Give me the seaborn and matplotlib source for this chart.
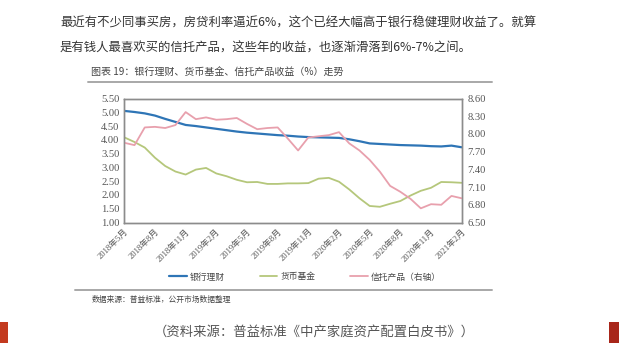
import pandas as pd
import matplotlib.pyplot as plt
import seaborn as sns
from matplotlib.lines import Line2D
from matplotlib.patches import Rectangle

# monthly data, 2018-05 .. 2021-02
months = list(range(34))
bank = [5.05, 5.01, 4.96, 4.88, 4.76, 4.65, 4.54, 4.50, 4.45, 4.40,
        4.35, 4.30, 4.26, 4.23, 4.20, 4.17, 4.15, 4.12, 4.10, 4.09,
        4.08, 4.07, 4.02, 3.95, 3.87, 3.85, 3.83, 3.81, 3.80, 3.79,
        3.77, 3.76, 3.79, 3.73]
money = [4.09, 3.92, 3.72, 3.35, 3.05, 2.85, 2.74, 2.92, 2.98, 2.78,
         2.68, 2.55, 2.46, 2.47, 2.40, 2.40, 2.42, 2.42, 2.43, 2.59,
         2.62, 2.48, 2.20, 1.88, 1.60, 1.57, 1.68, 1.78, 1.98, 2.15,
         2.26, 2.47, 2.46, 2.44]
trust = [7.85, 7.81, 8.11, 8.12, 8.10, 8.15, 8.37, 8.25, 8.28, 8.24,
         8.25, 8.27, 8.17, 8.08, 8.10, 8.11, 7.92, 7.72, 7.94, 7.96,
         7.98, 8.03, 7.84, 7.72, 7.56, 7.36, 7.12, 7.02, 6.90, 6.74,
         6.81, 6.80, 6.95, 6.91]
xtick_pos = [0, 3, 6, 9, 12, 15, 18, 21, 24, 27, 30, 33]
xtick_labels = ['2018年5月', '2018年8月', '2018年11月', '2019年2月', '2019年5月',
                '2019年8月', '2019年11月', '2020年2月', '2020年5月', '2020年8月',
                '2020年11月', '2021年2月']
left_ticks = [1.0, 1.5, 2.0, 2.5, 3.0, 3.5, 4.0, 4.5, 5.0, 5.5]
right_ticks = [6.5, 6.8, 7.1, 7.4, 7.7, 8.0, 8.3, 8.6]

df = pd.DataFrame({'month': months, 'bank': bank, 'money': money, 'trust': trust})

sns.set_theme(style="white")
plt.rcParams['font.family'] = ['Noto Sans CJK SC', 'DejaVu Sans']

W, H = 619, 351
fig = plt.figure(figsize=(6.19, 3.51), dpi=100)
fig.patch.set_facecolor('white')

def fx(px):
    return px / W

def fy(py):
    return 1 - py / H

# article text
fig.text(fx(60), fy(23), '最近有不少同事买房，房贷利率逼近6%，这个已经大幅高于银行稳健理财收益了。就算',
         fontsize=8.9, color='#333333', va='center', ha='left')
fig.text(fx(60), fy(48), '是有钱人最喜欢买的信托产品，这些年的收益，也逐渐滑落到6%-7%之间。',
         fontsize=8.9, color='#333333', va='center', ha='left')

# chart title
fig.text(fx(91), fy(73), '图表 19：银行理财、货币基金、信托产品收益（%）走势',
         fontsize=7.2, color='#444444', va='center', ha='left')
fig.add_artist(Line2D([fx(88), fx(492)], [fy(82), fy(82)], color='#a8a8a8', lw=1.4))

ax = fig.add_axes([fx(124.3), fy(222.5), fx(461.7) - fx(124.3), fy(98.5) - fy(222.5)])
sns.lineplot(data=df, x='month', y='bank', ax=ax, color='#2e75b6', linewidth=1.6)
sns.lineplot(data=df, x='month', y='money', ax=ax, color='#b5c77b', linewidth=1.3)
ax2 = ax.twinx()
sns.lineplot(data=df, x='month', y='trust', ax=ax2, color='#e8a0ad', linewidth=1.3)

ax.set_xlim(0, 33)
ax.set_ylim(1.0, 5.5)
ax2.set_ylim(6.5, 8.6)
ax.set_yticks(left_ticks)
ax.set_yticklabels([f'{v:.2f}' for v in left_ticks])
ax2.set_yticks(right_ticks)
ax2.set_yticklabels([f'{v:.2f}' for v in right_ticks])
ax.set_xticks(xtick_pos)
ax.set_xticklabels(xtick_labels, rotation=45, ha='right', rotation_mode='anchor')
ax.set_xlabel('')
ax.set_ylabel('')
ax2.set_ylabel('')

serif_cjk = ['Liberation Serif', 'Noto Sans CJK SC']
for lab in ax.get_yticklabels() + ax2.get_yticklabels():
    lab.set_family(serif_cjk)
    lab.set_fontsize(7.6)
    lab.set_color('#555555')
for lab in ax.get_xticklabels():
    lab.set_family(serif_cjk)
    lab.set_fontsize(6.2)
    lab.set_color('#555555')

ax.tick_params(axis='both', length=0, pad=3.5)
ax2.tick_params(axis='y', length=0, pad=4)
for a in (ax, ax2):
    for s in a.spines.values():
        s.set_color('#8c8c8c')
        s.set_linewidth(1.0)
ax.grid(False)
ax2.grid(False)

handles = [Line2D([], [], color='#2e75b6', lw=1.6),
           Line2D([], [], color='#b5c77b', lw=1.3),
           Line2D([], [], color='#e8a0ad', lw=1.3)]
fig.legend(handles, ['银行理财', '货币基金', '信托产品（右轴）'], loc='center',
           bbox_to_anchor=(fx(305), fy(277)), ncol=3, frameon=False,
           fontsize=6.3, handlelength=2.0, handletextpad=0.35, columnspacing=4.0,
           labelcolor='#444444')

fig.add_artist(Line2D([fx(75), fx(492)], [fy(290), fy(290)], color='#a8a8a8', lw=1.4))

fig.text(fx(92), fy(300), '数据来源：普益标准，公开市场数据整理',
         fontsize=5.6, color='#444444', va='center', ha='left')

fig.text(fx(314), fy(332), '（资料来源：普益标准《中产家庭资产配置白皮书》）',
         fontsize=9.6, color='#555555', va='center', ha='center')

# small red marks at the bottom corners
fig.patches.append(Rectangle((fx(0), fy(343)), fx(8), 21 / H, transform=fig.transFigure,
                             facecolor='#c33a1f', edgecolor='none'))
fig.patches.append(Rectangle((fx(609), fy(343)), fx(10), 21 / H, transform=fig.transFigure,
                             facecolor='#a8261a', edgecolor='none'))

fig.savefig('out.png', dpi=100)
